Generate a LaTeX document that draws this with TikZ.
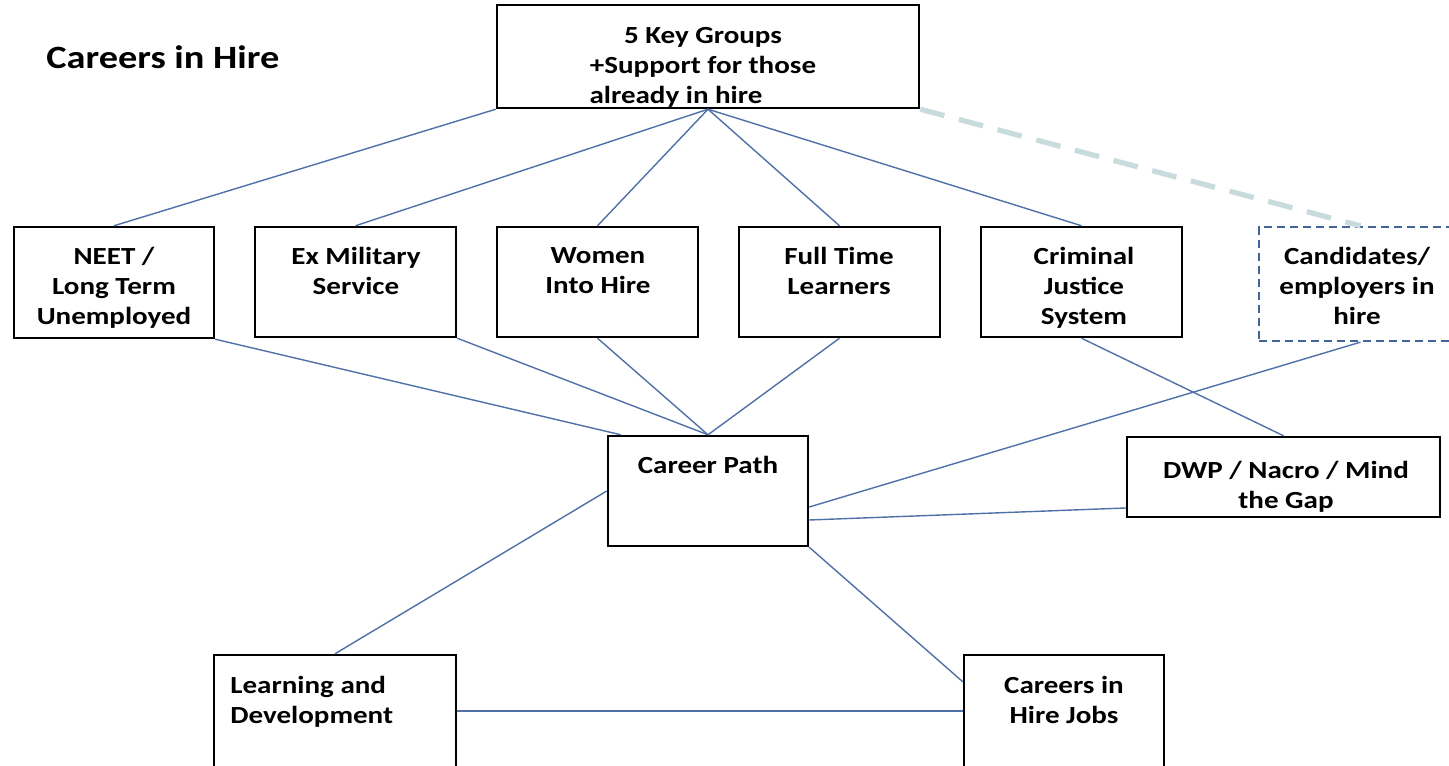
\documentclass[tikz,border=0pt]{standalone}
\usepackage{fontspec}
\setmainfont{Carlito}[FakeStretch=1.18]
\usetikzlibrary{fit}

\definecolor{linkblue}{RGB}{79,113,168}
\definecolor{dashblue}{RGB}{65,100,155}
\definecolor{palelink}{RGB}{200,220,222}

\begin{document}
\begin{tikzpicture}[x=0.02cm, y=-0.02cm]
\tikzset{box/.style = {draw, line width=1.4pt, inner sep=0pt}}
\tikzset{dashbox/.style = {draw=dashblue, line width=1.3pt, dash pattern=on 0.16cm off 0.1cm, inner sep=0pt}}
\tikzset{boxtext/.style = {anchor=north, align=center, inner sep=0pt, font=\fontsize{14pt}{17pt}\selectfont\bfseries}}
\tikzset{link/.style = {draw=linkblue, line width=0.8pt}}
\useasboundingbox (0,0) rectangle (1449,766);
% title
\node[anchor=west, inner sep=0pt, font=\fontsize{18.5pt}{22pt}\selectfont\bfseries] (title) at (46,57) {Careers in Hire};
% boxes
\node[box, fit={(497,5) (919,108)}] (groups) {};
\node[box, fit={(14,227) (214,338)}] (neet) {};
\node[box, fit={(255,227) (456,337)}] (military) {};
\node[box, fit={(497,227) (698,337)}] (women) {};
\node[box, fit={(739,227) (940,337)}] (learners) {};
\node[box, fit={(981,227) (1182,337)}] (justice) {};
\node[dashbox, fit={(1259,227) (1462,341)}] (inhire) {};
\node[box, fit={(608,436) (808,546)}] (path) {};
\node[box, fit={(1127,437) (1440,517)}] (dwp) {};
\node[box, fit={(214,655) (456,775)}] (develop) {};
\node[box, fit={(964,655) (1164,775)}] (jobs) {};
% texts
\node[boxtext] (groupstext) at (703,27) {5 Key Groups\\+Support for those\\already in hire\hspace*{1.08cm}};
\node[boxtext] (neettext) at (114,247) {NEET /\\Long Term\\Unemployed};
\node[boxtext] (militarytext) at (356,247) {Ex Military\\Service};
\node[boxtext] (womentext) at (598,247) {Women\\Into Hire};
\node[boxtext] (learnerstext) at (839,247) {Full Time\\Learners};
\node[boxtext] (justicetext) at (1084,247) {Criminal\\Justice\\System};
\node[boxtext] (inhiretext) at (1357,247) {Candidates/\\employers in\\hire};
\node[boxtext] (pathtext) at (708,456) {Career Path};
\node[boxtext] (dwptext) at (1286,461) {DWP / Nacro / Mind\\the Gap};
\node[boxtext, anchor=north west, align=left] (developtext) at (230,676) {Learning and\\Development};
\node[boxtext] (jobstext) at (1064,676) {Careers in\\Hire Jobs};
% connectors
\draw[link] (groups.south west) -- (neet.north);
\draw[link] (groups.south) -- (military.north);
\draw[link] (groups.south) -- (women.north);
\draw[link] (groups.south) -- (learners.north);
\draw[link] (groups.south) -- (justice.north);
\draw[palelink, line width=3pt, dash pattern=on 0.5cm off 0.3cm] (groups.south east) -- (inhire.north);
\draw[link] (neet.south east) -- ([xshift=0.28cm]path.north west);
\draw[link] (military.south east) -- (path.north);
\draw[link] (women.south) -- (path.north);
\draw[link] (learners.south) -- (path.north);
\draw[link] (inhire.south) -- ([yshift=-0.32cm]path.east);
\draw[link] (justice.south) -- (dwp.north);
\draw[link] ([yshift=-0.62cm]dwp.west) -- ([yshift=-0.58cm]path.east);
\draw[link] (path.west) -- (develop.north);
\draw[link] (path.south east) -- ([yshift=-0.56cm]jobs.north west);
\draw[link] ([yshift=0.08cm]develop.east) -- ([yshift=0.08cm]jobs.west);
\end{tikzpicture}
\end{document}
